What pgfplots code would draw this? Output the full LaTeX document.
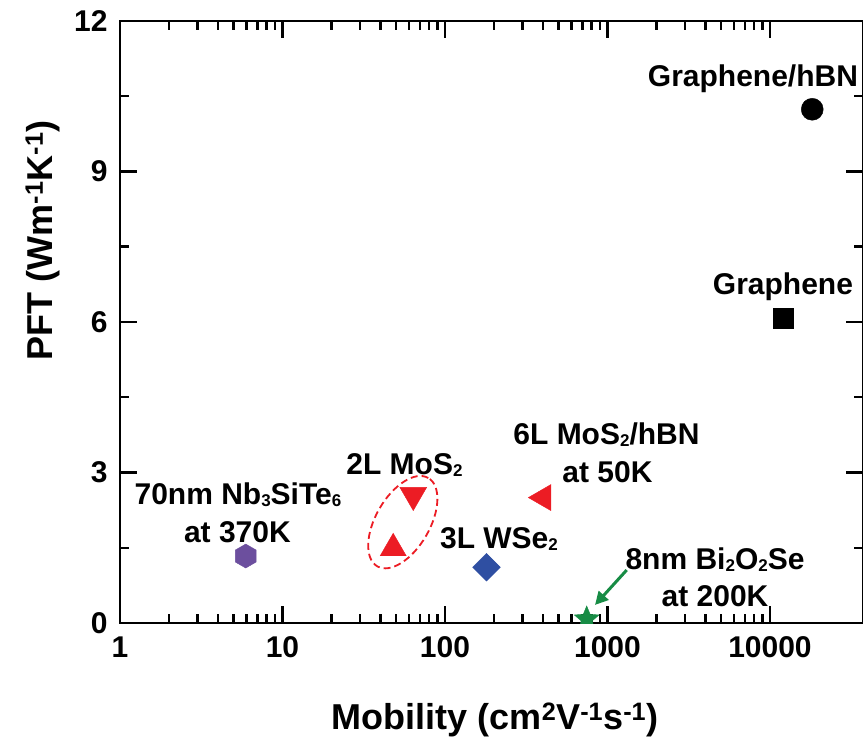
\documentclass[border=0pt]{standalone}
\usepackage{fontspec}
\setmainfont{Liberation Sans}
\usepackage{pgfplots}
\pgfplotsset{compat=1.18}
\usetikzlibrary{arrows.meta,shapes.geometric}
\definecolor{mred}{HTML}{EC1C24}
\definecolor{mblue}{HTML}{2F4FA2}
\definecolor{mpurple}{HTML}{6C4F9E}
\definecolor{mgreen}{HTML}{178C45}
\newcommand{\sub}[1]{\raisebox{-1.5pt}{\fontsize{17}{17}\selectfont #1}}
\pgfdeclareplotmark{hexagon*}{%
  \pgfpathmoveto{\pgfpointpolar{90}{\pgfplotmarksize}}%
  \pgfpathlineto{\pgfpointpolar{150}{\pgfplotmarksize}}%
  \pgfpathlineto{\pgfpointpolar{210}{\pgfplotmarksize}}%
  \pgfpathlineto{\pgfpointpolar{270}{\pgfplotmarksize}}%
  \pgfpathlineto{\pgfpointpolar{330}{\pgfplotmarksize}}%
  \pgfpathlineto{\pgfpointpolar{30}{\pgfplotmarksize}}%
  \pgfpathclose
  \pgfusepathqfillstroke}
\pgfdeclareplotmark{fstar}{%
  \pgfpathmoveto{\pgfpointpolar{90}{\pgfplotmarksize}}%
  \pgfpathlineto{\pgfpointpolar{126}{0.45\pgfplotmarksize}}%
  \pgfpathlineto{\pgfpointpolar{162}{\pgfplotmarksize}}%
  \pgfpathlineto{\pgfpointpolar{198}{0.45\pgfplotmarksize}}%
  \pgfpathlineto{\pgfpointpolar{234}{\pgfplotmarksize}}%
  \pgfpathlineto{\pgfpointpolar{270}{0.45\pgfplotmarksize}}%
  \pgfpathlineto{\pgfpointpolar{306}{\pgfplotmarksize}}%
  \pgfpathlineto{\pgfpointpolar{342}{0.45\pgfplotmarksize}}%
  \pgfpathlineto{\pgfpointpolar{18}{\pgfplotmarksize}}%
  \pgfpathlineto{\pgfpointpolar{54}{0.45\pgfplotmarksize}}%
  \pgfpathclose
  \pgfusepathqfillstroke}
\begin{document}
\begin{tikzpicture}
\path[use as bounding box] (-120pt,-122pt) rectangle (743pt,623pt);
\begin{axis}[
  at={(0pt,0pt)}, anchor=south west,
  width=743pt, height=602pt, scale only axis,
  xmode=log, xmin=1, xmax=37360,
  ymin=0, ymax=12,
  xtick={1,10,100,1000,10000},
  xticklabels={1,10,100,1000,10000},
  ytick={0,3,6,9,12},
  minor y tick num=1,
  tick align=inside,
  xtick pos=both, ytick pos=both,
  xticklabel pos=lower, yticklabel pos=left,
  major tick length=17pt, minor tick length=9pt,
  every tick/.append style={line width=2.5pt, black},
  axis line style={line width=2.8pt},
  tick label style={font=\fontsize{30}{36}\selectfont\bfseries},
  xticklabel style={yshift=-10pt},
  yticklabel style={xshift=-9pt},
  /pgf/number format/assume math mode=true,
  xlabel={Mobility (cm\textsuperscript{2}V\textsuperscript{-1}s\textsuperscript{-1})},
  ylabel={PFT (Wm\textsuperscript{-1}K\textsuperscript{-1})},
  every axis x label/.style={at={(axis description cs:0.5047,-0.1777)}, anchor=base, font=\fontsize{36}{40}\selectfont\bfseries},
  every axis y label/.style={at={(axis description cs:-0.0915,0.636)}, anchor=base, rotate=90, font=\fontsize{36}{40}\selectfont\bfseries},
  clip marker paths=true,
]
% Graphene/hBN
\addplot[only marks, mark=*, mark size=11pt, black] coordinates {(18200,10.24)};
% Graphene
\addplot[only marks, mark=square*, mark size=10pt, black] coordinates {(12080,6.08)};
% 70nm Nb3SiTe6
\addplot[only marks, mark=hexagon*, mark size=12pt, mpurple] coordinates {(5.94,1.335)};
% 2L MoS2
\addplot[only marks, mark=triangle*, mark size=15.5pt, mred, mark options={rotate=180}] coordinates {(63.8,2.55)};
\addplot[only marks, mark=triangle*, mark size=15pt, mred] coordinates {(48,1.49)};
% 6L MoS2/hBN
\addplot[only marks, mark=triangle*, mark size=15pt, mred, mark options={rotate=90}] coordinates {(403,2.50)};
% 3L WSe2
\addplot[only marks, mark=square*, mark size=9.8pt, mblue, mark options={rotate=45}] coordinates {(180,1.11)};
% 8nm Bi2O2Se
\addplot[only marks, mark=fstar, mark size=13pt, mgreen] coordinates {(745,0.08)};

\node[draw=mred, dashed, dash pattern=on 7pt off 4pt, line width=1.8pt, ellipse, minimum width=102pt, minimum height=54pt, inner sep=0pt, rotate=60] at (axis cs:55,2.01) {};
\draw[mgreen, line width=3pt, -{Triangle[length=13pt,width=13pt]}] (axis cs:1313,1.056) -- (axis cs:838,0.36);

\begin{scope}[every node/.style={anchor=base, font=\fontsize{30}{36}\selectfont\bfseries, inner sep=0pt}]
\node at (axis cs:7853,10.69) {Graphene/hBN};
\node at (axis cs:12020,6.54) {Graphene};
\node at (axis cs:5.32,2.36) {70nm Nb\sub{3}SiTe\sub{6}};
\node at (axis cs:5.28,1.61) {at 370K};
\node at (axis cs:56.3,2.96) {2L MoS\sub{2}};
\node at (axis cs:214.9,1.485) {3L WSe\sub{2}};
\node at (axis cs:986,3.55) {6L MoS\sub{2}/hBN};
\node at (axis cs:1000,2.81) {at 50K};
\node at (axis cs:4590,1.066) {8nm Bi\sub{2}O\sub{2}Se};
\node at (axis cs:4590,0.319) {at 200K};
\end{scope}
\end{axis}
\end{tikzpicture}
\end{document}
